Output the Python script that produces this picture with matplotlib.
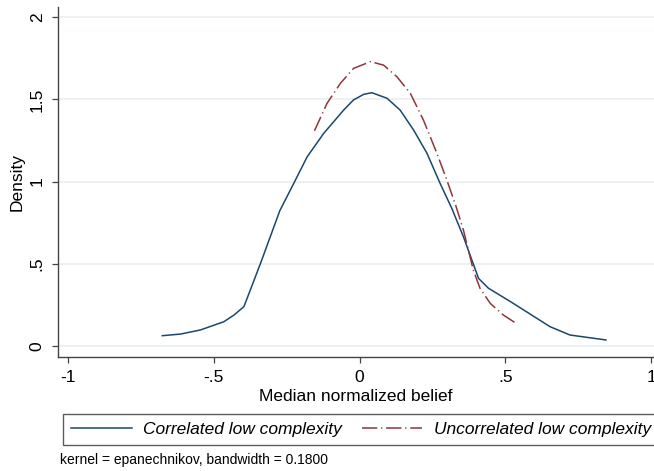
import matplotlib
matplotlib.use("Agg")
import matplotlib.pyplot as plt

plt.rcParams["font.family"] = ["Liberation Sans", "DejaVu Sans"]

# kernel density estimates
x_corr = [-0.677, -0.614, -0.546, -0.466, -0.431, -0.397, -0.340, -0.274,
          -0.226, -0.180, -0.123, -0.055, -0.021, 0.014, 0.042, 0.094,
          0.139, 0.185, 0.231, 0.276, 0.316, 0.356, 0.408, 0.442, 0.527,
          0.653, 0.722, 0.845]
y_corr = [0.061, 0.071, 0.096, 0.146, 0.187, 0.238, 0.502, 0.822,
          0.989, 1.151, 1.294, 1.435, 1.497, 1.531, 1.541, 1.507,
          1.435, 1.314, 1.172, 0.989, 0.837, 0.664, 0.410, 0.350, 0.258,
          0.116, 0.065, 0.035]

x_unc = [-0.155, -0.112, -0.066, -0.021, 0.037, 0.082, 0.128, 0.174,
         0.219, 0.265, 0.299, 0.331, 0.356, 0.390, 0.413, 0.448, 0.493,
         0.537]
y_unc = [1.309, 1.476, 1.598, 1.689, 1.730, 1.709, 1.638, 1.537,
         1.374, 1.172, 1.010, 0.847, 0.705, 0.461, 0.350, 0.258, 0.187,
         0.136]

xticks = [-1, -0.5, 0, 0.5, 1]
xtick_labels = ["-1", "-.5", "0", ".5", "1"]
yticks = [0, 0.5, 1, 1.5, 2]
ytick_labels = ["0", ".5", "1", "1.5", "2"]

labels = ["Correlated low complexity", "Uncorrelated low complexity"]
note = "kernel = epanechnikov, bandwidth = 0.1800"

NAVY = "#1a476f"
MAROON = "#90353b"
AXC = "#444444"
FS = 12.5

fig = plt.figure(figsize=(6.54, 4.71), dpi=100)
ax = fig.add_axes([58 / 654, 114.3 / 471, 596 / 654, 349.7 / 471])

ax.set_yticks(yticks)
ax.set_yticklabels(ytick_labels, rotation=90, va="center")
ax.set_xticks(xticks)
ax.set_xticklabels(xtick_labels)
ax.grid(axis="y", color="#eaf0f2", lw=1.3)
ax.set_axisbelow(True)

l1, = ax.plot(x_corr, y_corr, color=NAVY, lw=1.1, label=labels[0])
l2, = ax.plot(x_unc, y_unc, color=MAROON, lw=1.1, dashes=[10, 2.5, 0.8, 2.5],
              label=labels[1])

ax.set_xlim(-1.035, 1.010)
ax.set_ylim(-0.067, 2.063)
for s in ("top", "right"):
    ax.spines[s].set_visible(False)
for s in ("left", "bottom"):
    ax.spines[s].set_color(AXC)
    ax.spines[s].set_linewidth(1.0)
ax.tick_params(colors=AXC, labelcolor="black", length=4.5, width=0.9,
               labelsize=FS, pad=5)
ax.set_xlabel("Median normalized belief", fontsize=FS, labelpad=3)
ax.set_ylabel("Density", fontsize=FS, labelpad=4)

leg = fig.legend(handles=[l1, l2], loc="lower left", ncol=2,
                 bbox_to_anchor=(63 / 654, 26 / 471), borderaxespad=0,
                 frameon=True, fancybox=False, edgecolor="#333333",
                 prop={"size": FS, "style": "italic"},
                 handlelength=3.5, handletextpad=0.65, columnspacing=1.15,
                 borderpad=0.45)
leg.get_frame().set_linewidth(1.0)

fig.text(60 / 654, 1 - 460 / 471, note, fontsize=10, va="center", ha="left")

fig.savefig("out.png", dpi=100)
